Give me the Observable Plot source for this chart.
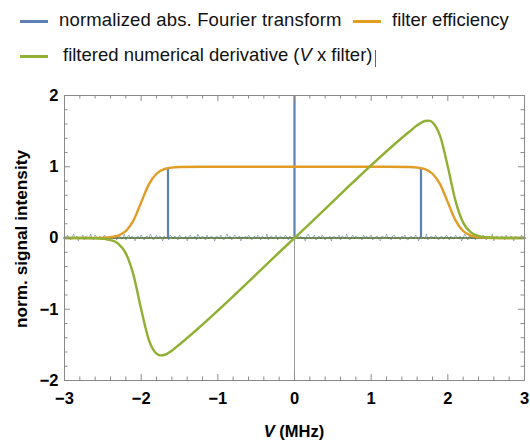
<!DOCTYPE html>
<html>
<head>
<meta charset="utf-8">
<script src="https://cdn.jsdelivr.net/npm/d3@7"></script>
<script src="https://cdn.jsdelivr.net/npm/@observablehq/plot@0.6"></script>
<style>
  html, body { margin: 0; padding: 0; background: #fff; }
  body { width: 530px; height: 441px; overflow: hidden; font-family: "Liberation Sans", Arial, sans-serif; }
  #legend { position: relative; width: 530px; height: 72px; }
  .sw { position: absolute; height: 3px; width: 28px; }
  .lt { position: absolute; font-size: 18.5px; line-height: 18.5px; white-space: nowrap; color: #111; }
  #cursor { position: absolute; width: 1px; background: #666; }
</style>
</head>
<body>
<div id="legend"></div>
<div id="chart"></div>
<script>
// ---------- data ----------
const seriesNames = ["normalized abs. Fourier transform", "filter efficiency", "filtered numerical derivative"];
const colors = ["#5e81b5", "#e19c24", "#8fb032"];

// filter efficiency (orange)
const filterV   = [-3,-2.8,-2.6,-2.5,-2.4,-2.3,-2.2,-2.1,-2.0,-1.9,-1.8,-1.7,-1.6,-1.5,-1.2,-0.6,0,0.6,1.2,1.5,1.6,1.7,1.8,1.9,2.0,2.1,2.2,2.3,2.4,2.5,2.6,2.8,3];
const filterVal = [0,0,0.001,0.004,0.012,0.034,0.098,0.248,0.5,0.752,0.902,0.966,0.988,0.996,1,1,1,1,1,0.996,0.988,0.966,0.902,0.752,0.5,0.248,0.098,0.034,0.012,0.004,0.001,0,0];

// filtered numerical derivative (green)
const derivV   = [-3,-2.8,-2.6,-2.5,-2.4,-2.3,-2.2,-2.1,-2.0,-1.9,-1.8,-1.75,-1.7,-1.6,-1.5,0,1.5,1.6,1.7,1.75,1.8,1.9,2.0,2.1,2.2,2.3,2.4,2.5,2.6,2.8,3];
const derivVal = [0,0,-0.003,-0.010,-0.029,-0.078,-0.216,-0.521,-1.0,-1.429,-1.624,-1.648,-1.642,-1.581,-1.494,0,1.494,1.581,1.642,1.648,1.624,1.429,1.0,0.521,0.216,0.078,0.029,0.010,0.003,0,0];

// Fourier transform peaks (blue)
const peakV = [-1.65, 0, 1.65];
const peakH = [0.97, 2.05, 0.97];

// Fourier transform noise floor (blue), in units of noiseUnit, evenly spaced from -3 to 3
const noise = [
  2,-1,3,0,-2,1,4,-1,2,-3,1,0,3,-2,2,1,-1,4,0,-2,3,1,-1,2,-2,0,3,1,-3,2,0,1,-1,3,-2,1,2,-1,0,4,-2,1,3,-1,2,0,-3,1,2,-1,
  3,0,-2,1,2,-1,4,1,-2,0,3,-1,2,1,-3,2,0,1,-2,3,1,-1,2,0,-2,3,1,0,-1,2,-3,1,3,-1,0,2,-2,4,1,-1,2,0,-2,3,-1,1,2,0,-3,2,
  1,-1,3,0,-2,1,4,-1,2,-2,0,3,1,-1,2,-3,1,0,2,-1,3,1,-2,0,2,-1,3,1,-2,2,0,-1,4,-2,1,2,-1,0,3,-2,1,2,0,-1,3,1,-2,2,0,-1,
  -2,1,3,0,2,-1,1,-3,2,4,0,-1,1,3,-2,0,2,-1,3,1,-2,1,0,2,-3,1,2,-1,0,3,-2,2,1,-1,4,0,-2,1,3,-1,2,0,-1,1,-2,3,0,2,-1,1,
  3,-2,0,1,2,-1,-3,2,1,0,4,-1,1,-2,2,3,-1,0,1,-2,2,0,3,-1,-2,1,2,0,-1,3,1,-3,2,0,1,-1,4,-2,0,2,1,-1,3,0,-2,1,2,-1,0,3,
  1,-2,2,0,-1,3,1,-1,2,-3,0,4,1,-2,2,0,-1,3,-2,1,2,0,-1,3,1,-2,0,2,-1,4,-3,1,2,0,-1,2,1,-2,3,0,-1,2,1,-3,2,0,1,-1,3,0,2
];
const noiseUnit = 0.014;

const xTicks = [-3,-2,-1,0,1,2,3];
const yTicks = [-2,-1,0,1,2];

// ---------- layout ----------
const W = 530, H = 369, mt = 23, mb = 61, ml = 64, mr = 6;
const fh = H - mt - mb, fw = W - ml - mr;
const majorLen = 6, minorLen = 3.5;
const frameColor = "#8a8a8a";
const fmt = d => d < 0 ? "\u2212" + Math.abs(d) : String(d);

const minorX = d3.range(-3, 3.0001, 0.2).map(d => +d.toFixed(2)).filter(d => Math.abs(d - Math.round(d)) > 1e-6);
const minorY = d3.range(-2, 2.0001, 0.2).map(d => +d.toFixed(2)).filter(d => Math.abs(d - Math.round(d)) > 1e-6);

const noiseX = noise.map((_, i) => -3 + i * 6 / (noise.length - 1));
const noiseY = noise.map(d => d * noiseUnit);

// ---------- legend ----------
const legend = document.getElementById("legend");
function sw(left, top, color) {
  const s = document.createElement("div");
  s.className = "sw"; s.style.left = left + "px"; s.style.top = top + "px"; s.style.background = color;
  legend.appendChild(s);
}
function lt(left, top, html) {
  const t = document.createElement("div");
  t.className = "lt"; t.style.left = left + "px"; t.style.top = top + "px"; t.innerHTML = html;
  legend.appendChild(t);
  return t;
}
sw(20, 19.5, colors[0]);
const t1 = lt(59, 10.8, seriesNames[0]);
t1.style.letterSpacing = "0.15px";
sw(353, 19.5, colors[1]); lt(392, 10.8, seriesNames[1]);
sw(20, 54.5, colors[2]); lt(63, 46, seriesNames[2] + " (<i>V</i> x filter)");
const cur = document.createElement("div"); cur.id = "cursor";
cur.style.left = "375px"; cur.style.top = "50px"; cur.style.height = "17px";
legend.appendChild(cur);

// ---------- chart ----------
const plot = Plot.plot({
  width: W, height: H,
  marginTop: mt, marginBottom: mb, marginLeft: ml, marginRight: mr,
  style: { fontFamily: "'Liberation Sans', Arial, sans-serif", color: "#000", background: "#fff" },
  x: { domain: [-3, 3] },
  y: { domain: [-2, 2] },
  marks: [
    Plot.ruleX([0], { stroke: "#9a9a9a", strokeWidth: 1 }),
    Plot.line(noiseX, { x: noiseX, y: noiseY, stroke: colors[0], strokeWidth: 0.8, strokeOpacity: 0.75 }),
    Plot.ruleY([0], { stroke: "#4f6a2a", strokeWidth: 1.6 }),
    Plot.ruleX(peakV, { x: peakV, y1: 0, y2: peakH, stroke: colors[0], strokeWidth: 2.2, clip: true }),
    Plot.line(filterV, { x: filterV, y: filterVal, curve: "monotone-x", stroke: colors[1], strokeWidth: 2.4 }),
    Plot.line(derivV, { x: derivV, y: derivVal, curve: "monotone-x", stroke: colors[2], strokeWidth: 2.4 }),
    Plot.frame({ stroke: frameColor, strokeWidth: 1 }),
    // inward ticks: bottom / top
    Plot.tickX(xTicks, { x: d => d, insetTop: fh - majorLen, stroke: frameColor }),
    Plot.tickX(minorX, { x: d => d, insetTop: fh - minorLen, stroke: frameColor }),
    Plot.tickX(xTicks, { x: d => d, insetBottom: fh - majorLen, stroke: frameColor }),
    Plot.tickX(minorX, { x: d => d, insetBottom: fh - minorLen, stroke: frameColor }),
    // inward ticks: left / right
    Plot.tickY(yTicks, { y: d => d, insetRight: fw - majorLen, stroke: frameColor }),
    Plot.tickY(minorY, { y: d => d, insetRight: fw - minorLen, stroke: frameColor }),
    Plot.tickY(yTicks, { y: d => d, insetLeft: fw - majorLen, stroke: frameColor }),
    Plot.tickY(minorY, { y: d => d, insetLeft: fw - minorLen, stroke: frameColor }),
    Plot.axisX({ ticks: xTicks, tickFormat: fmt, tickSize: 0, tickPadding: 12, fontSize: 16.5, fontWeight: "bold", label: null }),
    Plot.axisY({ ticks: yTicks, tickFormat: fmt, tickSize: 0, tickPadding: 6, fontSize: 16.5, fontWeight: "bold", label: null })
  ]
});
document.getElementById("chart").appendChild(plot);

// axis titles (rich text)
const svg = d3.select(plot);
const xt = svg.append("text")
  .attr("x", ml + fw / 2).attr("y", H - 4)
  .attr("text-anchor", "middle").attr("font-size", 16.5).attr("font-weight", "bold").attr("fill", "#000")
  .attr("font-family", "'Liberation Sans', Arial, sans-serif");
xt.append("tspan").attr("font-style", "italic").text("V");
xt.append("tspan").text(" (MHz)");
svg.append("text")
  .attr("transform", `translate(27,${mt + fh / 2 + 1.5}) rotate(-90)`)
  .attr("text-anchor", "middle").attr("font-size", 17).attr("font-weight", "bold").attr("fill", "#000")
  .attr("font-family", "'Liberation Sans', Arial, sans-serif")
  .attr("textLength", 178).attr("lengthAdjust", "spacingAndGlyphs")
  .text("norm. signal intensity");
</script>
</body>
</html>
